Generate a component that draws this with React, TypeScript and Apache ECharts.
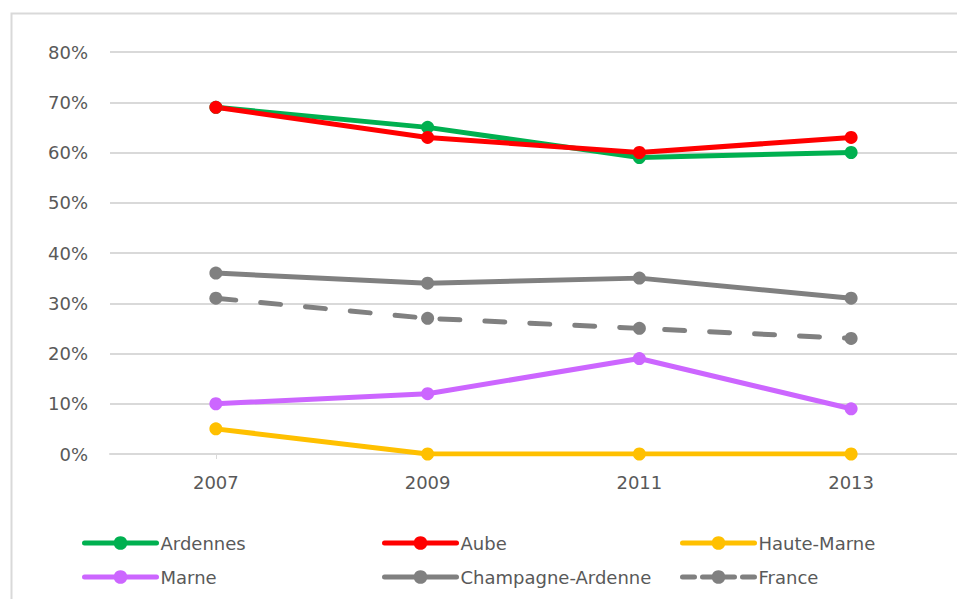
import React, { useEffect, useRef } from "react";
import * as echarts from "echarts";

const years = ["2007", "2009", "2011", "2013"];
const ardennes = [69, 65, 59, 60];
const aube = [69, 63, 60, 63];
const hauteMarne = [5, 0, 0, 0];
const marne = [10, 12, 19, 9];
const champagne = [36, 34, 35, 31];
const france = [31, 27, 25, 23];

const FONT = "DejaVu Sans";
const TXT = "#595959";

export default function App() {
  const ref = useRef<HTMLDivElement>(null);
  useEffect(() => {
    const chart = echarts.init(ref.current!, null, { renderer: "svg" });
    const mk = (name: string, data: number[], color: string, dashed = false) => ({
      name,
      type: "line",
      data,
      symbol: "circle",
      symbolSize: 13,
      itemStyle: { color },
      lineStyle: dashed
        ? { color, width: 5, type: [20, 25], cap: "round" }
        : { color, width: 5, cap: "round" },
      emphasis: { disabled: true },
    });
    const leg = (name: string, left: number, top: number, dashed = false) => ({
      data: [name],
      left,
      top,
      padding: 0,
      itemWidth: 72,
      itemHeight: 17,
      itemGap: 0,
      selectedMode: false,
      lineStyle: dashed ? { width: 5, type: [12, 8], cap: "round" } : { width: 5, cap: "round" },
      textStyle: { fontFamily: FONT, fontSize: 18, color: TXT, padding: [0, 0, 0, -1] },
    });
    chart.setOption({
      animation: false,
      backgroundColor: "#ffffff",
      graphic: [
        {
          type: "rect",
          left: 9,
          top: 11,
          shape: { width: 980, height: 620 },
          style: { fill: "none", stroke: "#d9d9d9", lineWidth: 2 },
          silent: true,
          z: -10,
        },
      ],
      grid: { left: 110, right: 0, top: 52, bottom: 145, containLabel: false },
      xAxis: {
        type: "category",
        data: years,
        boundaryGap: true,
        axisLine: { lineStyle: { color: "#d9d9d9", width: 2 } },
        axisTick: { show: true, alignWithLabel: true, length: 5, lineStyle: { color: "#d9d9d9" } },
        axisLabel: { fontFamily: FONT, fontSize: 18, color: TXT, margin: 19 },
      },
      yAxis: {
        type: "value",
        min: 0,
        max: 80,
        interval: 10,
        axisLine: { show: false },
        axisTick: { show: false },
        axisLabel: { formatter: "{value}%", fontFamily: FONT, fontSize: 18, color: TXT, margin: 22 },
        splitLine: { lineStyle: { color: "#d9d9d9", width: 2 } },
      },
      legend: [
        leg("Ardennes", 82, 534),
        leg("Aube", 382, 534),
        leg("Haute-Marne", 680, 534),
        leg("Marne", 82, 568),
        leg("Champagne-Ardenne", 382, 568),
        leg("France", 680, 568, true),
      ],
      series: [
        mk("Ardennes", ardennes, "#00B050"),
        mk("Aube", aube, "#FF0000"),
        mk("Haute-Marne", hauteMarne, "#FFC000"),
        mk("Marne", marne, "#CC66FF"),
        mk("Champagne-Ardenne", champagne, "#808080"),
        mk("France", france, "#808080", true),
      ],
    });
    return () => chart.dispose();
  }, []);
  return (
    <div
      ref={ref}
      style={{ position: "fixed", left: 0, top: 0, width: 957, height: 599 }}
    />
  );
}
